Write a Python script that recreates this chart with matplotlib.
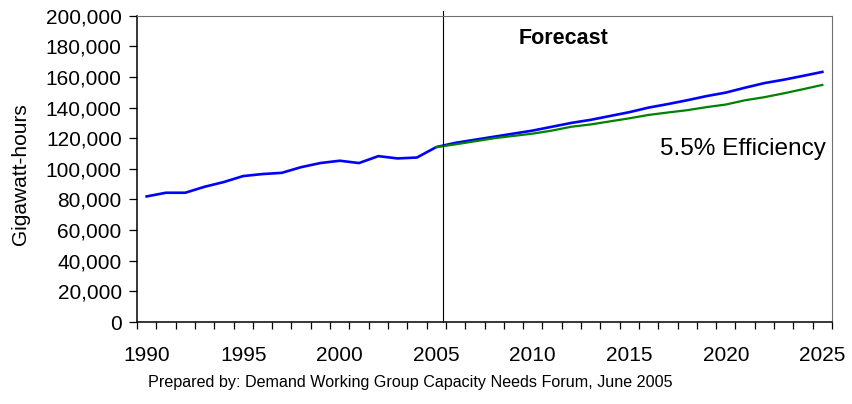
import matplotlib
matplotlib.use("Agg")
import matplotlib.pyplot as plt
from matplotlib.ticker import FuncFormatter, MultipleLocator, FixedLocator

plt.rcParams['font.family'] = ['Liberation Sans', 'DejaVu Sans']

# Data (thousands of GWh -> converted to GWh)
years_actual = list(range(1990, 2026))
demand_gwh = [82.0, 84.4, 84.4, 88.3, 91.4, 95.3, 96.6, 97.4, 101.1, 103.8,
              105.3, 103.8, 108.3, 106.8, 107.4, 114.2,
              117.0, 119.0, 121.0, 123.0, 125.0, 127.5, 130.0, 132.0, 134.5, 137.0,
              140.0, 142.3, 144.8, 147.5, 149.8, 153.0, 156.0, 158.2, 160.7, 163.3]
years_eff = list(range(2005, 2026))
efficiency_gwh = [114.2, 116.0, 118.0, 120.0, 121.5, 123.0, 125.0, 127.5, 129.0, 131.0,
                  133.0, 135.2, 136.8, 138.3, 140.3, 142.0, 144.8, 146.8, 149.3, 152.0, 154.8]
demand_gwh = [v * 1000 for v in demand_gwh]
efficiency_gwh = [v * 1000 for v in efficiency_gwh]

x_tick_labels = [1990, 1995, 2000, 2005, 2010, 2015, 2020, 2025]
forecast_start = 2005.36

W, H = 852, 404
fig = plt.figure(figsize=(W / 100, H / 100), dpi=100)
ax = fig.add_axes([137 / W, 1 - 322 / H, (832 - 137) / W, (322 - 15.7) / H])

ax.plot(years_actual, demand_gwh, color='#0000FF', lw=1.9, solid_joinstyle='round')
ax.plot(years_eff, efficiency_gwh, color='#008000', lw=1.6, solid_joinstyle='round')

ax.axvline(forecast_start, ymin=0, ymax=1.016, color='black', lw=0.8, clip_on=False)

ax.set_xlim(1989.5, 2025.5)
ax.set_ylim(0, 200000)

ax.yaxis.set_major_locator(MultipleLocator(20000))
ax.yaxis.set_major_formatter(FuncFormatter(lambda v, p: f"{int(v):,}"))
ax.xaxis.set_major_locator(FixedLocator(x_tick_labels))
ax.xaxis.set_minor_locator(FixedLocator([y + 0.5 for y in range(1989, 2026)]))

ax.tick_params(axis='x', which='major', length=0, labelsize=15, pad=17)
ax.tick_params(axis='x', which='minor', length=5, width=0.9, direction='out', color='black')
ax.tick_params(axis='y', which='major', length=6, width=0.9, direction='out', labelsize=15, pad=5)

for s in ['left', 'bottom']:
    ax.spines[s].set_color('black')
    ax.spines[s].set_linewidth(1.1)
for s in ['top', 'right']:
    ax.spines[s].set_color('#707070')
    ax.spines[s].set_linewidth(0.8)

fig.text(564 / W, 1 - 39 / H, 'Forecast', ha='center', va='center', fontsize=15.5, fontweight='bold')
fig.text(826 / W, 1 - 149 / H, '5.5% Efficiency', ha='right', va='center', fontsize=17.6)
fig.text(21 / W, 1 - 174 / H, 'Gigawatt-hours', ha='center', va='center', rotation=90, fontsize=15)
fig.text(410 / W, 1 - 383 / H, 'Prepared by: Demand Working Group Capacity Needs Forum, June 2005',
         ha='center', va='center', fontsize=11.6)

fig.savefig('out.png', dpi=100)
